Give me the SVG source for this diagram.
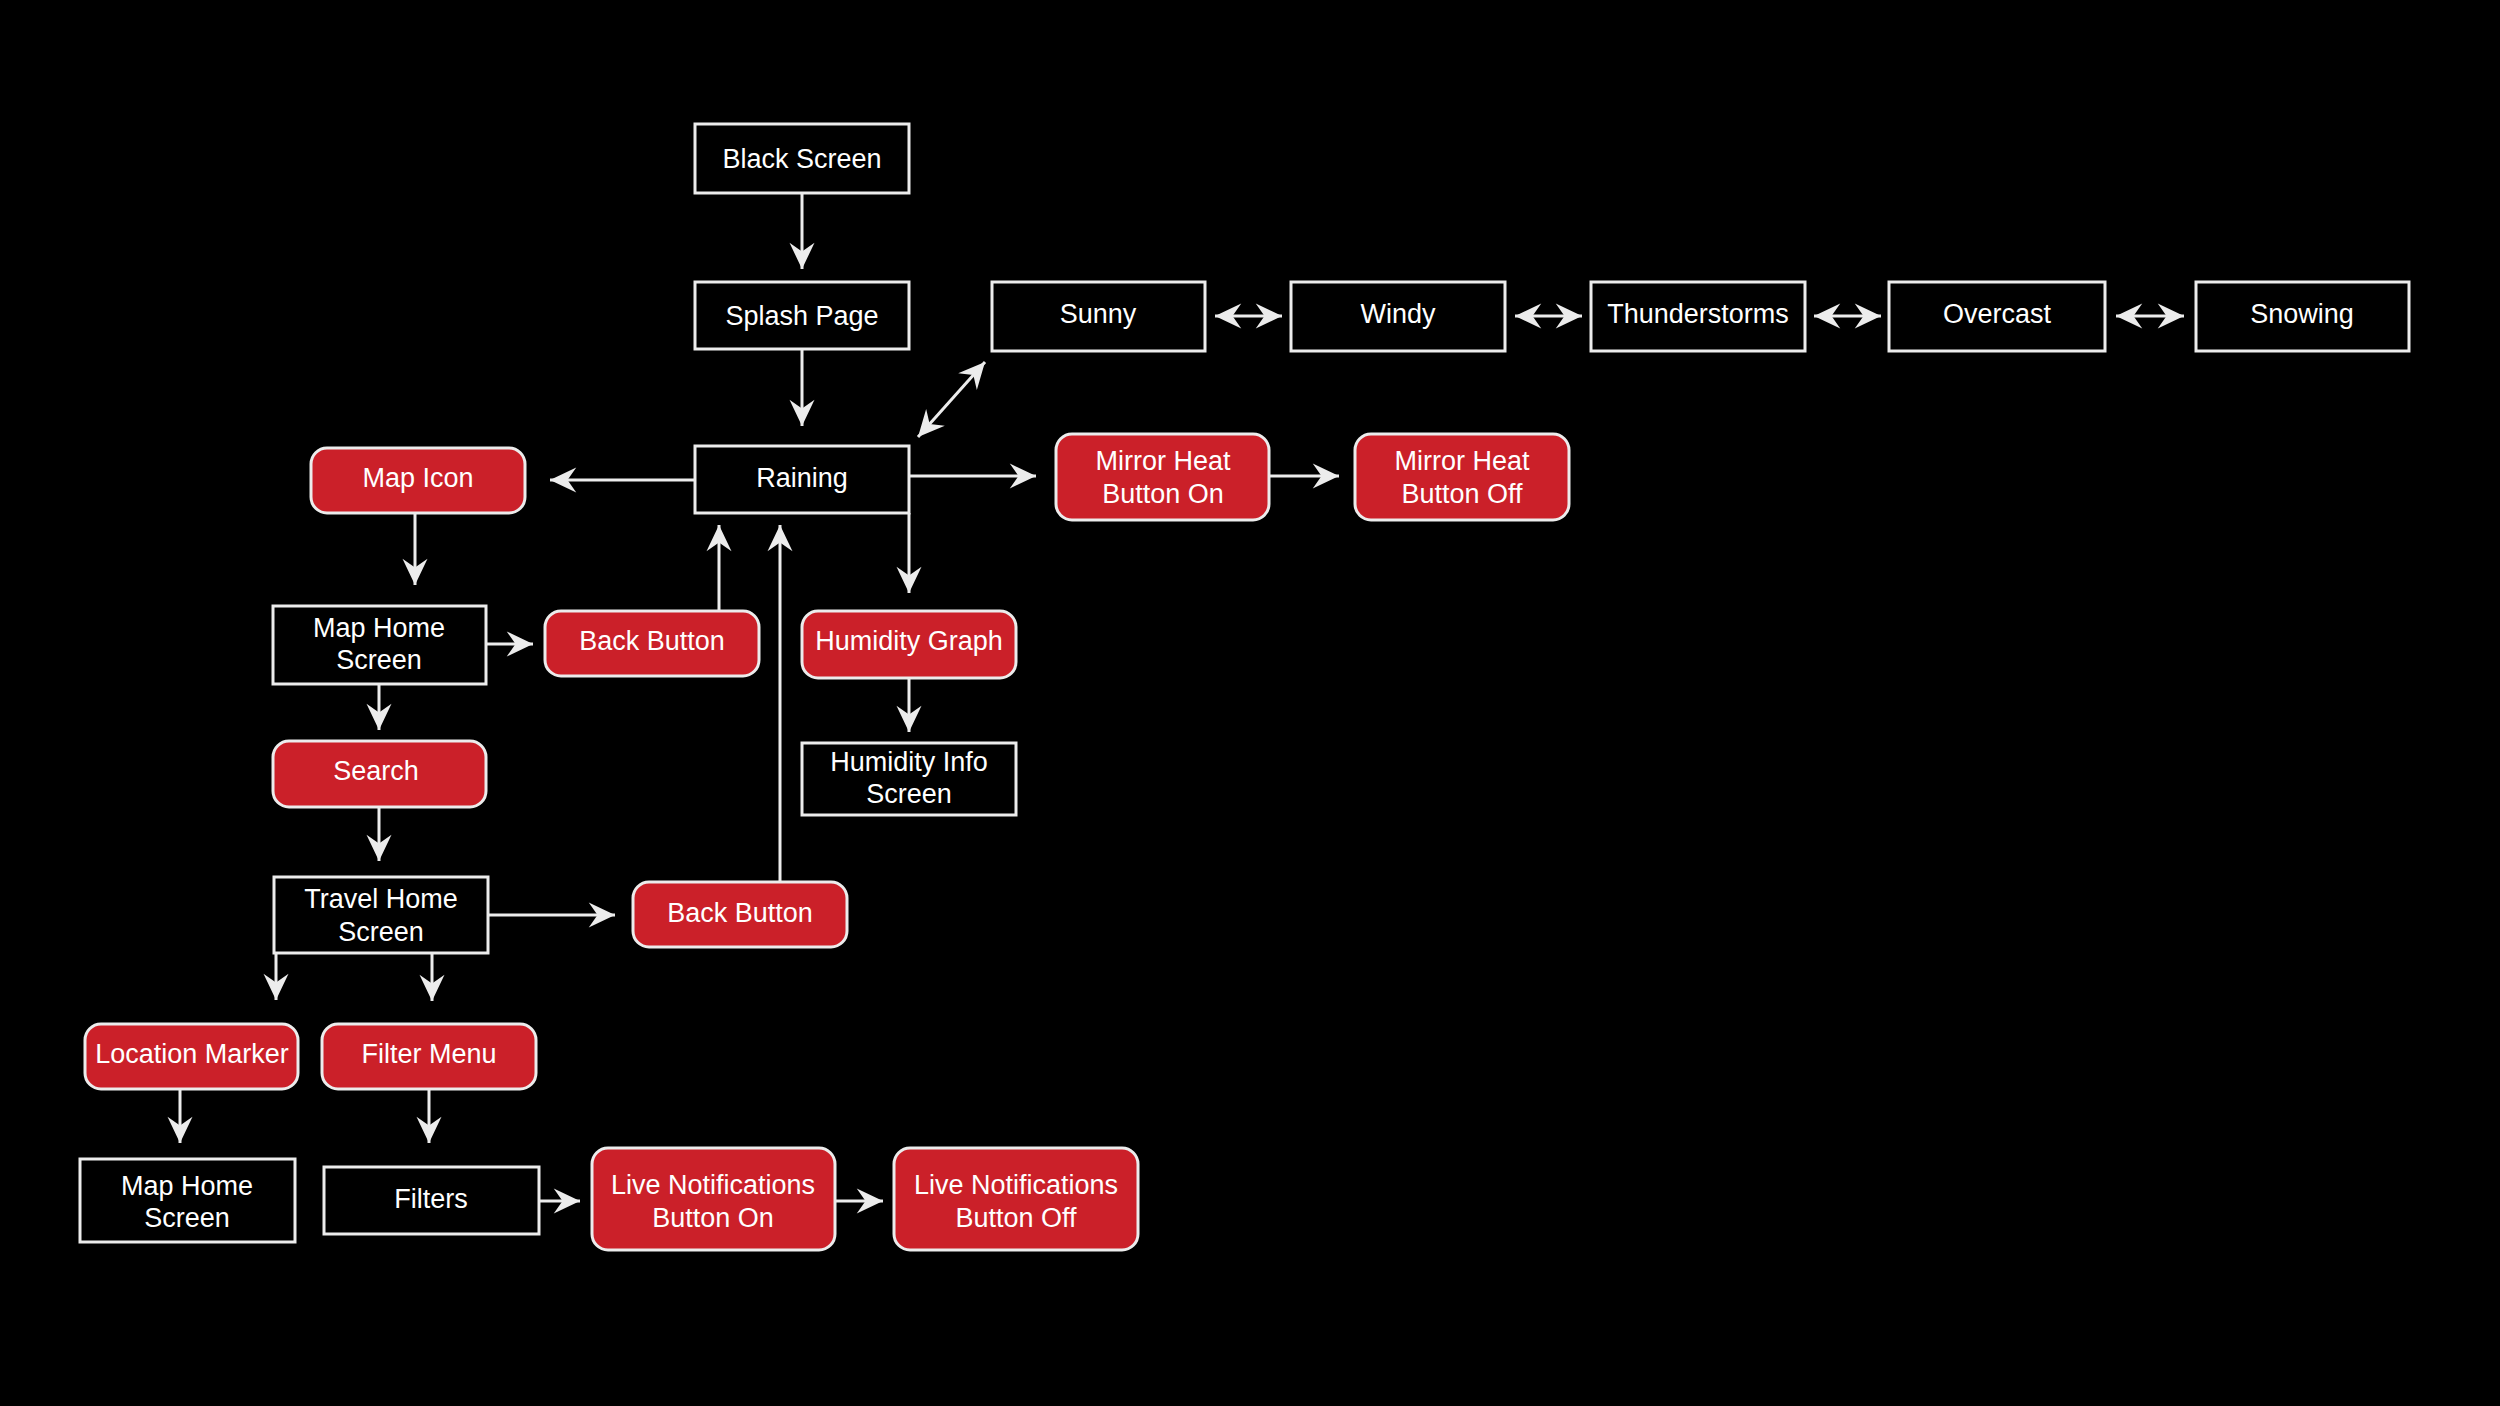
<svg xmlns="http://www.w3.org/2000/svg" width="2500" height="1406" viewBox="0 0 2500 1406">
<style>
.box{fill:#000;stroke:#ececec;stroke-width:3}
.btn{fill:#cb2029;stroke:#ececec;stroke-width:3}
text{font-family:"Liberation Sans",Arial,sans-serif;font-size:27px;fill:#fff;text-anchor:middle}
.c{fill:none;stroke:#ececec;stroke-width:3}
</style>
<defs>
<marker id="ah" markerUnits="userSpaceOnUse" markerWidth="30" markerHeight="30" viewBox="-22 -12 24 24" refX="0" refY="0" orient="auto-start-reverse">
<path d="M0,0 L-21,-10 L-14,0 L-21,10 Z" fill="#ececec"/>
</marker>
</defs>
<rect width="2500" height="1406" fill="#000"/>
<g id="connectors">
<path class="c" d="M802,193 V269" marker-end="url(#ah)"/>
<path class="c" d="M802,349 V426" marker-end="url(#ah)"/>
<path class="c" d="M918,437 L985,362" marker-start="url(#ah)" marker-end="url(#ah)"/>
<path class="c" d="M1215,316 H1282" marker-start="url(#ah)" marker-end="url(#ah)"/>
<path class="c" d="M1515,316 H1582" marker-start="url(#ah)" marker-end="url(#ah)"/>
<path class="c" d="M1814,316 H1881" marker-start="url(#ah)" marker-end="url(#ah)"/>
<path class="c" d="M2116,316 H2184" marker-start="url(#ah)" marker-end="url(#ah)"/>
<path class="c" d="M695,480 H550" marker-end="url(#ah)"/>
<path class="c" d="M909,476 H1036" marker-end="url(#ah)"/>
<path class="c" d="M1269,476 H1339" marker-end="url(#ah)"/>
<path class="c" d="M909,513 V593" marker-end="url(#ah)"/>
<path class="c" d="M909,678 V732" marker-end="url(#ah)"/>
<path class="c" d="M415,513 V585" marker-end="url(#ah)"/>
<path class="c" d="M486,644 H533" marker-end="url(#ah)"/>
<path class="c" d="M719,611 V525" marker-end="url(#ah)"/>
<path class="c" d="M379,684 V730" marker-end="url(#ah)"/>
<path class="c" d="M379,807 V861" marker-end="url(#ah)"/>
<path class="c" d="M488,915 H615" marker-end="url(#ah)"/>
<path class="c" d="M780,882 V525" marker-end="url(#ah)"/>
<path class="c" d="M276,953 V1000" marker-end="url(#ah)"/>
<path class="c" d="M432,953 V1001" marker-end="url(#ah)"/>
<path class="c" d="M180,1089 V1143" marker-end="url(#ah)"/>
<path class="c" d="M429,1089 V1143" marker-end="url(#ah)"/>
<path class="c" d="M539,1201 H580" marker-end="url(#ah)"/>
<path class="c" d="M835,1201 H883" marker-end="url(#ah)"/>
</g>
<g id="black-screen"><rect class="box" x="695" y="124" width="214" height="69"/><text x="802" y="168">Black Screen</text></g>
<g id="splash-page"><rect class="box" x="695" y="282" width="214" height="67"/><text x="802" y="325">Splash Page</text></g>
<g id="sunny"><rect class="box" x="992" y="282" width="213" height="69"/><text x="1098" y="323">Sunny</text></g>
<g id="windy"><rect class="box" x="1291" y="282" width="214" height="69"/><text x="1398" y="323">Windy</text></g>
<g id="thunderstorms"><rect class="box" x="1591" y="282" width="214" height="69"/><text x="1698" y="323">Thunderstorms</text></g>
<g id="overcast"><rect class="box" x="1889" y="282" width="216" height="69"/><text x="1997" y="323">Overcast</text></g>
<g id="snowing"><rect class="box" x="2196" y="282" width="213" height="69"/><text x="2302" y="323">Snowing</text></g>
<g id="raining"><rect class="box" x="695" y="446" width="214" height="67"/><text x="802" y="487">Raining</text></g>
<g id="map-icon"><rect class="btn" x="311" y="448" width="214" height="65" rx="16"/><text x="418" y="487">Map Icon</text></g>
<g id="mirror-heat-on"><rect class="btn" x="1056" y="434" width="213" height="86" rx="16"/><text x="1163" y="470">Mirror Heat</text><text x="1163" y="503">Button On</text></g>
<g id="mirror-heat-off"><rect class="btn" x="1355" y="434" width="214" height="86" rx="16"/><text x="1462" y="470">Mirror Heat</text><text x="1462" y="503">Button Off</text></g>
<g id="map-home-screen"><rect class="box" x="273" y="606" width="213" height="78"/><text x="379" y="637">Map Home</text><text x="379" y="669">Screen</text></g>
<g id="back-button-1"><rect class="btn" x="545" y="611" width="214" height="65" rx="16"/><text x="652" y="650">Back Button</text></g>
<g id="humidity-graph"><rect class="btn" x="802" y="611" width="214" height="67" rx="16"/><text x="909" y="650">Humidity Graph</text></g>
<g id="humidity-info"><rect class="box" x="802" y="743" width="214" height="72"/><text x="909" y="771">Humidity Info</text><text x="909" y="803">Screen</text></g>
<g id="search"><rect class="btn" x="273" y="741" width="213" height="66" rx="16"/><text x="376" y="780">Search</text></g>
<g id="travel-home-screen"><rect class="box" x="274" y="877" width="214" height="76"/><text x="381" y="908">Travel Home</text><text x="381" y="941">Screen</text></g>
<g id="back-button-2"><rect class="btn" x="633" y="882" width="214" height="65" rx="16"/><text x="740" y="922">Back Button</text></g>
<g id="location-marker"><rect class="btn" x="85" y="1024" width="213" height="65" rx="16"/><text x="192" y="1063">Location Marker</text></g>
<g id="filter-menu"><rect class="btn" x="322" y="1024" width="214" height="65" rx="16"/><text x="429" y="1063">Filter Menu</text></g>
<g id="map-home-screen-2"><rect class="box" x="80" y="1159" width="215" height="83"/><text x="187" y="1195">Map Home</text><text x="187" y="1227">Screen</text></g>
<g id="filters"><rect class="box" x="324" y="1167" width="215" height="67"/><text x="431" y="1208">Filters</text></g>
<g id="live-notifications-on"><rect class="btn" x="592" y="1148" width="243" height="102" rx="16"/><text x="713" y="1194">Live Notifications</text><text x="713" y="1227">Button On</text></g>
<g id="live-notifications-off"><rect class="btn" x="894" y="1148" width="244" height="102" rx="16"/><text x="1016" y="1194">Live Notifications</text><text x="1016" y="1227">Button Off</text></g>
</svg>
